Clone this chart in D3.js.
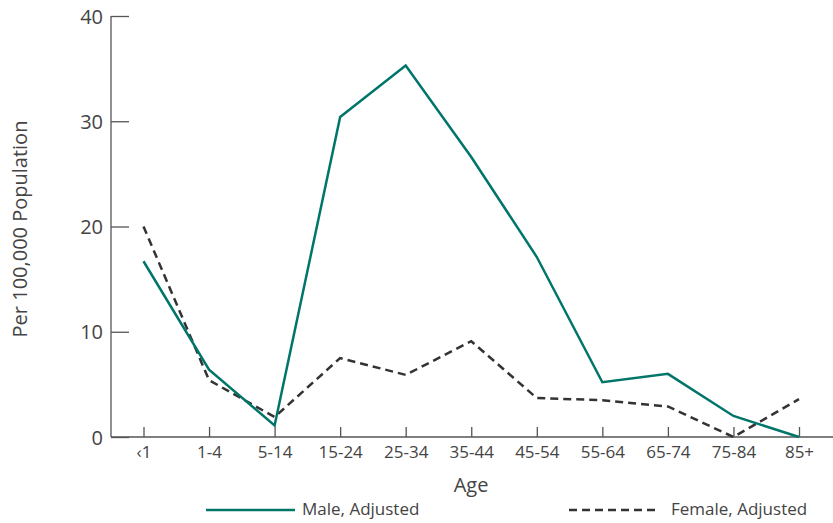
<!DOCTYPE html>
<html><head><meta charset="utf-8">
<script src="https://cdn.jsdelivr.net/npm/d3@7"></script>
<style>body{margin:0;background:#fff}svg{display:block}</style>
</head><body>
<svg id="c" width="833" height="523"></svg>
<script>
const categories = ["‹1","1-4","5-14","15-24","25-34","35-44","45-54","55-64","65-74","75-84","85+"];
const maleValues = [16.7, 6.4, 1.1, 30.4, 35.3, 26.6, 17.1, 5.2, 6.0, 2.0, 0];
const femaleValues = [20.0, 5.4, 1.9, 7.5, 5.9, 9.1, 3.7, 3.5, 2.9, 0, 3.6];
const yTicks = [0, 10, 20, 30, 40];
const seriesNames = ["Male, Adjusted", "Female, Adjusted"];

const font = "'Open Sans', sans-serif";
const svg = d3.select("#c");
const x0 = 111, xEnd = 833, yTop = 16, yBot = 437;
const x = d3.scalePoint().domain(categories).range([143.5, 799]);
const y = d3.scaleLinear().domain([0, 40]).range([yBot, yTop]);
const axisColor = "#555";
const textColor = "#444";

// y axis
const ya = svg.append("g").attr("transform", `translate(${x0},0)`)
  .call(d3.axisRight(y).tickValues(yTicks).tickSize(18).tickFormat(d3.format("d")));
ya.select(".domain").remove();
ya.append("line").attr("y1", yTop).attr("y2", yBot).attr("stroke", axisColor).attr("stroke-width", 1.3);
ya.selectAll(".tick line").attr("stroke", axisColor).attr("stroke-width", 1.3);
ya.selectAll(".tick text").attr("x", -8).attr("text-anchor", "end").attr("dy", "0.35em")
  .attr("fill", textColor).style("font-family", font).style("font-size", "20px");

// x axis
const xa = svg.append("g").attr("transform", `translate(0,${yBot})`)
  .call(d3.axisTop(x).tickSize(10));
xa.select(".domain").remove();
xa.append("line").attr("x1", x0).attr("x2", xEnd).attr("stroke", axisColor).attr("stroke-width", 1.3);
xa.selectAll(".tick line").attr("stroke", axisColor).attr("stroke-width", 1.3);
xa.selectAll(".tick text").attr("y", 15).attr("dy", "0.35em").attr("fill", textColor)
  .style("font-family", font).style("font-size", "17px");

// titles
svg.append("text").attr("x", 471).attr("y", 485).attr("dy", "0.35em").attr("text-anchor", "middle")
  .attr("fill", textColor).style("font-family", font).style("font-size", "20px").text("Age");
svg.append("text").attr("transform", "translate(20,229) rotate(-90)").attr("dy", "0.35em").attr("text-anchor", "middle")
  .attr("fill", textColor).style("font-family", font).style("font-size", "20px").text("Per 100,000 Population");

const line = d3.line().x((d, i) => x(categories[i])).y(d => y(d));
svg.append("path").datum(femaleValues).attr("d", line).attr("fill", "none")
  .attr("stroke", "#333").attr("stroke-width", 2.5).attr("stroke-dasharray", "8,5");
svg.append("path").datum(maleValues).attr("d", line).attr("fill", "none")
  .attr("stroke", "#00756A").attr("stroke-width", 2.5);

// legend
const leg = svg.append("g");
leg.append("line").attr("x1", 206).attr("x2", 295).attr("y1", 510).attr("y2", 510)
  .attr("stroke", "#00756A").attr("stroke-width", 2.5);
leg.append("text").attr("x", 302).attr("y", 509).attr("dy", "0.35em").attr("fill", textColor)
  .style("font-family", font).style("font-size", "17px").text(seriesNames[0]);
leg.append("line").attr("x1", 569).attr("x2", 657).attr("y1", 510).attr("y2", 510)
  .attr("stroke", "#333").attr("stroke-width", 2.5).attr("stroke-dasharray", "8,5");
leg.append("text").attr("x", 671).attr("y", 509).attr("dy", "0.35em").attr("fill", textColor)
  .style("font-family", font).style("font-size", "17px").text(seriesNames[1]);
</script>
</body></html>
